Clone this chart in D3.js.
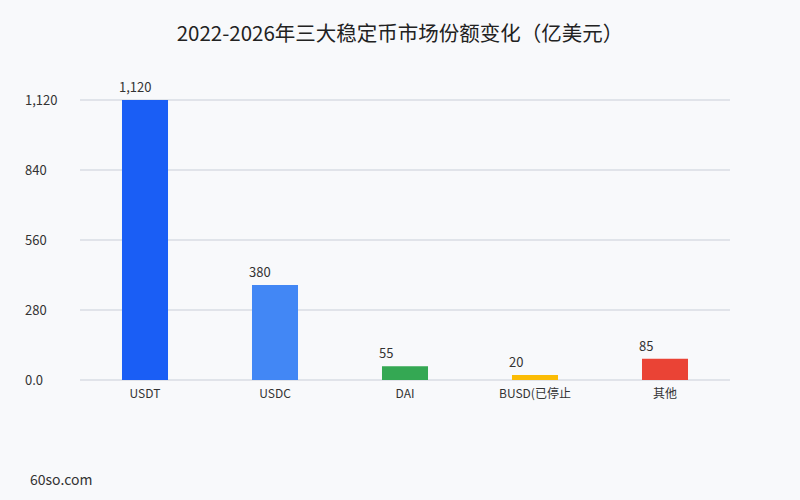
<!DOCTYPE html>
<html>
<head>
<meta charset="utf-8">
<script src="https://cdn.jsdelivr.net/npm/d3@7"></script>
<style>
  body { margin: 0; background: #f8f9fb; }
  svg { display: block; font-family: "Noto Sans CJK SC", "Noto Sans", sans-serif; }
</style>
</head>
<body>
<div id="chart"></div>
<script>
// Data
const categories = ["USDT", "USDC", "DAI", "BUSD(已停止", "其他"];
const values = [1120, 380, 55, 20, 85];
const colors = ["#1a5ef5", "#4287f5", "#34a853", "#fbbc05", "#ea4335"];
const yTicks = [0, 280, 560, 840, 1120];

const W = 800, H = 500;
const margin = {top: 100, right: 70, bottom: 120, left: 80};
const width = W - margin.left - margin.right,
      height = H - margin.top - margin.bottom;

const root = d3.select("#chart").append("svg")
    .attr("width", W)
    .attr("height", H);

root.append("rect").attr("width", W).attr("height", H).attr("fill", "#f8f9fb");

// Title
root.append("text")
    .attr("x", W / 2)
    .attr("y", 41)
    .attr("text-anchor", "middle")
    .style("font-size", "20.5px")
    .style("fill", "#222")
    .text("2022-2026年三大稳定币市场份额变化（亿美元）");

const svg = root.append("g")
    .attr("transform", `translate(${margin.left},${margin.top})`);

// Scales
const x = d3.scaleBand().domain(categories).range([0, width]).padding(0);
const y = d3.scaleLinear().domain([0, 1120]).range([height, 0]);
const barW = x.bandwidth() * 0.354;

// Grid lines
svg.append("g")
    .selectAll("line")
    .data(yTicks)
    .enter()
    .append("line")
    .attr("x1", 0)
    .attr("x2", width)
    .attr("y1", d => y(d))
    .attr("y2", d => y(d))
    .attr("stroke", "#c9ced8")
    .attr("stroke-width", 1);

// Y axis labels
svg.append("g")
    .selectAll("text")
    .data(yTicks)
    .enter()
    .append("text")
    .attr("x", -55)
    .attr("y", d => y(d))
    .attr("dy", "0.35em")
    .style("font-size", "13px")
    .style("fill", "#333")
    .text(d => d === 0 ? "0.0" : d3.format(",")(d));

// Bars
svg.selectAll("rect.bar")
    .data(categories)
    .enter()
    .append("rect")
    .attr("class", "bar")
    .attr("x", d => x(d) + (x.bandwidth() - barW) / 2)
    .attr("width", barW)
    .attr("y", (d, i) => y(values[i]))
    .attr("height", (d, i) => height - y(values[i]))
    .attr("fill", (d, i) => colors[i]);

// Value labels
svg.selectAll("text.val")
    .data(categories)
    .enter()
    .append("text")
    .attr("class", "val")
    .attr("x", d => x(d) + (x.bandwidth() - barW) / 2 - 3)
    .attr("y", (d, i) => y(values[i]) - 8)
    .style("font-size", "13px")
    .style("fill", "#333")
    .text((d, i) => d3.format(",")(values[i]));

// X axis labels
svg.selectAll("text.xl")
    .data(categories)
    .enter()
    .append("text")
    .attr("class", "xl")
    .attr("x", d => x(d) + x.bandwidth() / 2)
    .attr("y", height + 18)
    .attr("text-anchor", "middle")
    .style("font-size", "12px")
    .style("fill", "#333")
    .text(d => d);

// Watermark
root.append("text")
    .attr("x", 30)
    .attr("y", 485)
    .style("font-size", "14px")
    .style("fill", "#333")
    .text("60so.com");
</script>
</body>
</html>
